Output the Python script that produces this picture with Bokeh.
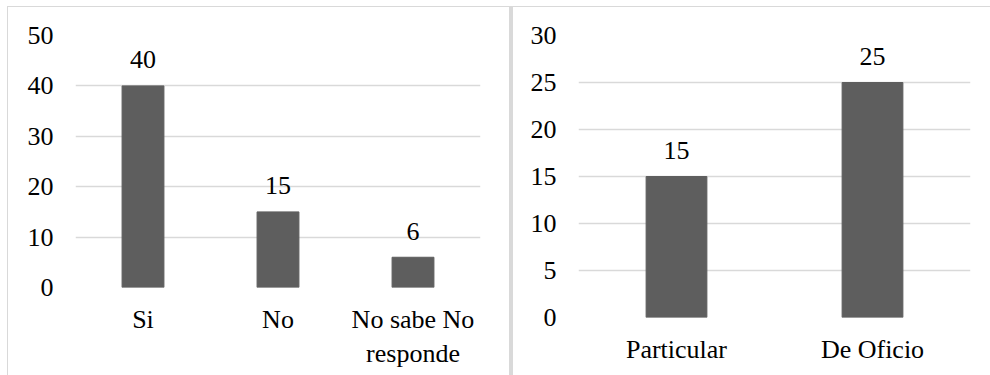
from bokeh.plotting import figure
from bokeh.models import ColumnDataSource, Div, Range1d, FactorRange, FixedTicker
from bokeh.layouts import row, column
from bokeh.embed import file_html
from bokeh.resources import INLINE
from bokeh.core.properties import value

# ---- data ----
left_categories = ["Si", "No", "No sabe No\nresponde"]
left_values = [40, 15, 6]
left_ticks = [0, 10, 20, 30, 40, 50]

right_categories = ["Particular", "De Oficio"]
right_values = [15, 25]
right_ticks = [0, 5, 10, 15, 20, 25, 30]

BAR = "#5e5e5e"
GRID = "#d9d9d9"
BORDER = "#d9d9d9"
FONT = "Liberation Serif"
FSIZE = "26px"


def make_panel(cats, vals, ticks, width, height, ml, mr, mt, mb, standoff_y):
    src = ColumnDataSource(dict(cat=cats, val=vals, label=[str(v) for v in vals]))
    p = figure(x_range=FactorRange(factors=cats, range_padding=0),
               y_range=Range1d(ticks[0], ticks[-1]),
               width=width, height=height,
               output_backend="svg", toolbar_location=None,
               min_border_left=ml, min_border_right=mr,
               min_border_top=mt, min_border_bottom=mb)
    p.vbar(x="cat", top="val", width=0.31, source=src,
           fill_color=BAR, line_color=BAR)
    p.text(x="cat", y="val", text="label", source=src,
           text_font=value(FONT), text_font_size=value(FSIZE),
           text_align="center", text_baseline="alphabetic",
           y_offset=-26, text_color="#000000")
    p.outline_line_color = None
    p.background_fill_color = "white"
    p.border_fill_color = "white"
    p.xgrid.grid_line_color = None
    p.ygrid.grid_line_color = GRID
    p.ygrid.grid_line_width = 1.5
    p.yaxis.ticker = FixedTicker(ticks=ticks)
    for ax in (p.xaxis, p.yaxis):
        ax.axis_line_color = None
        ax.major_tick_line_color = None
        ax.minor_tick_line_color = None
        ax.major_tick_in = 0
        ax.major_tick_out = 0
        ax.major_label_text_font = FONT
        ax.major_label_text_font_size = FSIZE
        ax.major_label_text_color = "#000000"
    p.yaxis.major_label_standoff = standoff_y
    p.xaxis.major_label_standoff = 17
    return p


p1 = make_panel(left_categories, left_values, left_ticks, 501, 368, 67, 29, 28, 88, 22)
p2 = make_panel(right_categories, right_values, right_ticks, 477, 368, 65, 20, 28, 58, 22)

top_line = Div(text="", width=983, height=1, margin=0,
               styles={"background-color": BORDER})
left_line = Div(text="", width=1, height=368, margin=0,
                styles={"background-color": BORDER})
mid_line = Div(text="", width=4, height=368, margin=0,
               styles={"background-color": BORDER})

layout = column(top_line,
                row(left_line, column(p1, spacing=0), mid_line,
                    column(p2, spacing=0), spacing=0),
                spacing=0, margin=(6, 0, 0, 7))

open("out.html", "w").write(file_html(layout, INLINE))
